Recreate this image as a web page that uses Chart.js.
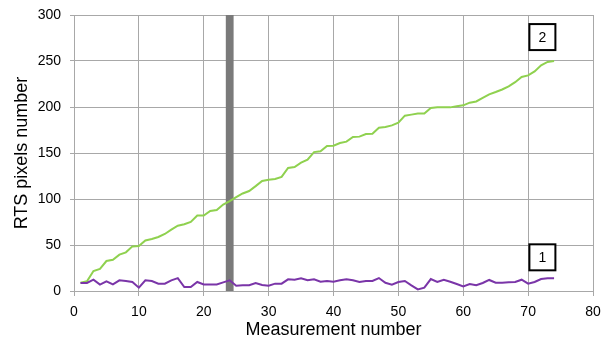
<!DOCTYPE html>
<html>
<head>
<meta charset="utf-8">
<script src="https://cdn.jsdelivr.net/npm/chart.js@4/dist/chart.umd.min.js"></script>
<style>
html,body{margin:0;padding:0;background:#fff;}
#wrap{width:610px;height:341px;}
</style>
</head>
<body>
<div id="wrap"><canvas id="c" width="610" height="341"></canvas></div>
<script>
const series2 = [9,10.5,21.7,24,32.6,34,39.5,42,48.5,49,55,56.5,58.7,62,66.7,71,72.5,75,82,82,87,88,94,97.8,102,106,108.7,114,119.6,121,121.7,124,133.7,134.8,139.5,142.8,151,151.8,157.6,158,160.9,162.3,167.4,167.8,170.7,171,177.5,178.3,180,183,190.6,191.7,192.8,192.8,199,199.6,199.6,199.6,200.7,201.8,204.7,206,209.8,213.8,216.3,219,222.5,227,232.6,234.4,238.7,245.3,249,250];
const series1 = [8.7,8.7,12.3,6.9,10.5,7.2,11.6,10.9,9.8,3.6,11.6,10.9,8,8,11.6,14,4.3,4.3,9.8,7.2,7.2,7.2,9.4,11.6,5.8,6.2,6.2,8.7,6.5,5.8,8,8,12.7,12.3,13.8,11.6,12.7,10.1,10.9,10.1,11.6,12.7,11.6,9.8,10.9,10.9,14.1,9,6.9,9.8,10.9,6.2,1.8,3.6,13,9.8,12.3,10.1,7.6,5,7.6,6.2,8.7,12,9,9,9.4,9.8,12.3,8,9.8,13,13.8,13.8];
const measurementNumbers = series1.map((_, i) => i + 1);
const xTicks = [0,10,20,30,40,50,60,70,80];
const yTicks = [0,50,100,150,200,250,300];
const seriesLabels = ["1", "2"];
const labelAnchors = [{x: 72.2, y: 36.6}, {x: 72.2, y: 276}];
const bandRange = [23.4, 24.6];

const FONT = '"Liberation Sans", Arial, sans-serif';
const toPts = arr => arr.map((v, i) => ({x: measurementNumbers[i], y: v}));

const overlay = {
  id: 'overlay',
  beforeDatasetsDraw(chart) {
    const {ctx, scales: {x, y}} = chart;
    const x0 = x.getPixelForValue(bandRange[0]);
    const x1 = x.getPixelForValue(bandRange[1]);
    ctx.save();
    ctx.fillStyle = '#7a7a7a';
    ctx.fillRect(x0, y.top, x1 - x0, y.bottom - y.top);
    ctx.restore();
  },
  afterDatasetsDraw(chart) {
    const {ctx, scales: {x, y}} = chart;
    ctx.save();
    labelAnchors.forEach((a, i) => {
      const cx = x.getPixelForValue(a.x);
      const cy = y.getPixelForValue(a.y);
      const s = 26;
      ctx.fillStyle = '#fff';
      ctx.fillRect(cx - s/2, cy - s/2, s, s);
      ctx.strokeStyle = '#000';
      ctx.lineWidth = 2;
      ctx.strokeRect(cx - s/2, cy - s/2, s, s);
      ctx.fillStyle = '#000';
      ctx.font = '14px ' + FONT;
      ctx.textAlign = 'center';
      ctx.textBaseline = 'middle';
      ctx.fillText(seriesLabels[i], cx, cy + 1);
    });
    ctx.restore();
  }
};

new Chart(document.getElementById('c'), {
  type: 'line',
  data: {
    datasets: [
      {label: seriesLabels[0], data: toPts(series1), borderColor: '#7a35a8', borderWidth: 2, pointRadius: 0, tension: 0, fill: false},
      {label: seriesLabels[1], data: toPts(series2), borderColor: '#8fd14f', borderWidth: 2, pointRadius: 0, tension: 0, fill: false}
    ]
  },
  options: {
    responsive: false,
    animation: false,
    devicePixelRatio: 1,
    layout: {padding: {top: 15, right: 17, left: 0, bottom: 0}},
    plugins: {legend: {display: false}, tooltip: {enabled: false}},
    scales: {
      x: {
        type: 'linear', min: 0, max: 80,
        afterBuildTicks: s => { s.ticks = xTicks.map(v => ({value: v})); },
        afterFit: s => { s.height = 50; s.paddingLeft = 0; s.paddingRight = 0; },
        grid: {color: '#a8a8a8', lineWidth: 1, tickLength: 5, drawTicks: true},
        border: {color: '#a8a8a8'},
        ticks: {color: '#000', font: {size: 14, family: FONT}, padding: 8, maxRotation: 0},
        title: {display: true, text: 'Measurement number', color: '#000', font: {size: 18, family: FONT}, padding: {top: 0, bottom: 0}}
      },
      y: {
        type: 'linear', min: 0, max: 300,
        afterBuildTicks: s => { s.ticks = yTicks.map(v => ({value: v})); },
        afterFit: s => { s.width = 74; s.paddingTop = 0; s.paddingBottom = 0; },
        grid: {color: '#a8a8a8', lineWidth: 1, tickLength: 4, drawTicks: true},
        border: {color: '#a8a8a8'},
        ticks: {color: '#000', font: {size: 14, family: FONT}, padding: 9},
        title: {display: true, text: 'RTS pixels number', color: '#000', font: {size: 18, family: FONT}, padding: {top: 11, bottom: 0}}
      }
    }
  },
  plugins: [overlay]
});
</script>
</body>
</html>
